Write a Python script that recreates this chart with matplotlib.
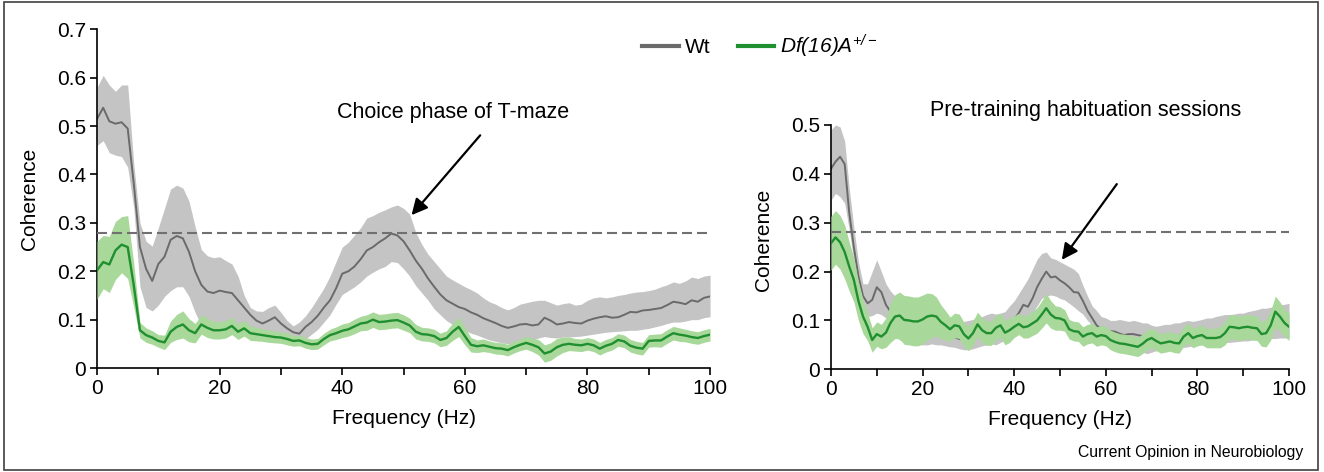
import numpy as np
import matplotlib
matplotlib.use("Agg")
import matplotlib.pyplot as plt
from matplotlib.lines import Line2D
from matplotlib.patches import Rectangle

plt.rcParams['font.family'] = ['Liberation Sans', 'DejaVu Sans']
plt.rcParams['mathtext.fontset'] = 'custom'
plt.rcParams['mathtext.rm'] = 'Liberation Sans:italic'
plt.rcParams['mathtext.it'] = 'Liberation Sans:italic'

# frequency grid (Hz), one value per Hz
freq = np.arange(0, 101)

# --- Choice phase of T-maze (left panel) ---
wt_choice = [0.515, 0.538, 0.51, 0.505, 0.508, 0.495, 0.38, 0.25, 0.205, 0.18,
             0.215, 0.23, 0.265, 0.273, 0.268, 0.24, 0.20, 0.172, 0.158, 0.155,
             0.16, 0.157, 0.155, 0.14, 0.125, 0.11, 0.098, 0.092, 0.098, 0.105,
             0.092, 0.082, 0.074, 0.071, 0.085, 0.095, 0.108, 0.125, 0.14, 0.165,
             0.195, 0.2, 0.21, 0.225, 0.243, 0.25, 0.26, 0.268, 0.278, 0.274,
             0.262, 0.243, 0.222, 0.205, 0.185, 0.168, 0.152, 0.14, 0.133, 0.126,
             0.122, 0.115, 0.11, 0.103, 0.098, 0.093, 0.087, 0.083, 0.086, 0.09,
             0.091, 0.088, 0.09, 0.104, 0.098, 0.09, 0.092, 0.095, 0.093, 0.092,
             0.098, 0.102, 0.105, 0.107, 0.104, 0.105, 0.11, 0.116, 0.115, 0.119,
             0.12, 0.122, 0.124, 0.13, 0.137, 0.135, 0.132, 0.14, 0.137, 0.145, 0.148]
wt_choice_hi = [0.58, 0.605, 0.585, 0.572, 0.585, 0.585, 0.42, 0.30, 0.262, 0.252,
                0.29, 0.33, 0.37, 0.378, 0.372, 0.345, 0.292, 0.245, 0.232, 0.228,
                0.23, 0.222, 0.215, 0.19, 0.15, 0.125, 0.118, 0.117, 0.125, 0.13,
                0.115, 0.098, 0.087, 0.095, 0.108, 0.125, 0.145, 0.165, 0.19, 0.22,
                0.25, 0.26, 0.275, 0.29, 0.31, 0.315, 0.322, 0.327, 0.333, 0.337,
                0.33, 0.318, 0.28, 0.255, 0.235, 0.22, 0.205, 0.19, 0.182, 0.175,
                0.168, 0.162, 0.155, 0.145, 0.137, 0.132, 0.125, 0.12, 0.125, 0.132,
                0.135, 0.138, 0.14, 0.14, 0.135, 0.13, 0.133, 0.135, 0.13, 0.132,
                0.14, 0.145, 0.147, 0.145, 0.147, 0.15, 0.152, 0.155, 0.157, 0.158,
                0.16, 0.163, 0.168, 0.172, 0.178, 0.175, 0.18, 0.188, 0.185, 0.19, 0.192]
wt_choice_lo = [0.46, 0.47, 0.445, 0.44, 0.437, 0.415, 0.33, 0.168, 0.125, 0.118,
                0.13, 0.148, 0.16, 0.168, 0.168, 0.148, 0.115, 0.088, 0.08, 0.078,
                0.08, 0.085, 0.085, 0.08, 0.075, 0.072, 0.07, 0.068, 0.07, 0.072,
                0.065, 0.06, 0.058, 0.055, 0.06, 0.07, 0.08, 0.095, 0.11, 0.132,
                0.152, 0.16, 0.168, 0.178, 0.19, 0.198, 0.205, 0.21, 0.22, 0.218,
                0.205, 0.19, 0.17, 0.155, 0.14, 0.122, 0.11, 0.098, 0.09, 0.085,
                0.078, 0.072, 0.068, 0.063, 0.058, 0.055, 0.052, 0.05, 0.05, 0.052,
                0.055, 0.058, 0.062, 0.065, 0.063, 0.062, 0.064, 0.064, 0.065, 0.066,
                0.068, 0.07, 0.072, 0.074, 0.075, 0.076, 0.077, 0.078, 0.078, 0.08,
                0.082, 0.085, 0.088, 0.092, 0.095, 0.095, 0.097, 0.1, 0.1, 0.104, 0.106]
df_choice = [0.202, 0.219, 0.214, 0.243, 0.255, 0.25, 0.17, 0.078, 0.068, 0.063,
             0.056, 0.053, 0.075, 0.085, 0.09, 0.078, 0.072, 0.09, 0.083, 0.078,
             0.078, 0.08, 0.087, 0.075, 0.082, 0.072, 0.07, 0.068, 0.066, 0.064,
             0.063, 0.06, 0.056, 0.057, 0.052, 0.049, 0.05, 0.06, 0.068, 0.072,
             0.077, 0.08, 0.086, 0.092, 0.094, 0.1, 0.095, 0.096, 0.098, 0.099,
             0.094, 0.088, 0.075, 0.07, 0.069, 0.066, 0.058, 0.062, 0.075, 0.085,
             0.066, 0.048, 0.045, 0.047, 0.044, 0.041, 0.04, 0.037, 0.043, 0.048,
             0.052, 0.048, 0.043, 0.03, 0.034, 0.043, 0.048, 0.05, 0.048, 0.047,
             0.05, 0.047, 0.04, 0.046, 0.05, 0.058, 0.055, 0.046, 0.042, 0.04,
             0.056, 0.057, 0.057, 0.065, 0.072, 0.069, 0.067, 0.064, 0.062, 0.066, 0.069]
df_choice_err = [0.06, 0.055, 0.058, 0.06, 0.058, 0.065, 0.045, 0.016, 0.015, 0.014,
                 0.013, 0.015, 0.022, 0.026, 0.028, 0.024, 0.02, 0.02, 0.02, 0.018,
                 0.018, 0.018, 0.018, 0.016, 0.016, 0.015, 0.014, 0.013, 0.013, 0.012,
                 0.012, 0.012, 0.011, 0.011, 0.011, 0.011, 0.011, 0.012, 0.012, 0.013,
                 0.014, 0.014, 0.015, 0.015, 0.016, 0.016, 0.016, 0.016, 0.016, 0.016,
                 0.016, 0.015, 0.015, 0.014, 0.014, 0.014, 0.014, 0.015, 0.018, 0.02,
                 0.018, 0.015, 0.013, 0.013, 0.012, 0.012, 0.012, 0.012, 0.012, 0.012,
                 0.013, 0.014, 0.016, 0.018, 0.018, 0.018, 0.016, 0.014, 0.013, 0.013,
                 0.013, 0.013, 0.013, 0.013, 0.013, 0.013, 0.013, 0.013, 0.013, 0.013,
                 0.013, 0.013, 0.014, 0.014, 0.014, 0.014, 0.013, 0.013, 0.013, 0.013, 0.013]

# --- Pre-training habituation sessions (right panel) ---
wt_habit = [0.41, 0.425, 0.435, 0.42, 0.32, 0.25, 0.19, 0.15, 0.135, 0.142,
            0.168, 0.158, 0.132, 0.118, 0.1, 0.09, 0.085, 0.08, 0.078, 0.08,
            0.082, 0.08, 0.078, 0.075, 0.073, 0.07, 0.068, 0.066, 0.062, 0.064,
            0.068, 0.07, 0.072, 0.075, 0.078, 0.08, 0.078, 0.08, 0.085, 0.095,
            0.102, 0.115, 0.132, 0.128, 0.145, 0.168, 0.185, 0.2, 0.188, 0.19,
            0.182, 0.176, 0.168, 0.158, 0.157, 0.14, 0.12, 0.105, 0.09, 0.082,
            0.08, 0.078, 0.077, 0.073, 0.07, 0.072, 0.072, 0.07, 0.068, 0.07,
            0.065, 0.062, 0.066, 0.07, 0.068, 0.066, 0.07, 0.072, 0.07, 0.068,
            0.07, 0.072, 0.074, 0.072, 0.075, 0.078, 0.08, 0.082, 0.08, 0.082,
            0.085, 0.088, 0.086, 0.09, 0.092, 0.094, 0.09, 0.095, 0.1, 0.098, 0.1]
wt_habit_hi = [0.49, 0.5, 0.496, 0.467, 0.37, 0.29, 0.22, 0.175, 0.175, 0.2,
               0.224, 0.2, 0.175, 0.16, 0.15, 0.14, 0.135, 0.13, 0.128, 0.13,
               0.13, 0.128, 0.125, 0.12, 0.115, 0.11, 0.105, 0.1, 0.095, 0.098,
               0.1, 0.102, 0.105, 0.108, 0.112, 0.115, 0.113, 0.115, 0.118, 0.13,
               0.14, 0.155, 0.17, 0.185, 0.205, 0.225, 0.237, 0.24, 0.228, 0.225,
               0.22, 0.215, 0.21, 0.205, 0.196, 0.172, 0.15, 0.13, 0.12, 0.108,
               0.105, 0.1, 0.1, 0.102, 0.1, 0.098, 0.1, 0.098, 0.095, 0.095,
               0.09, 0.088, 0.09, 0.092, 0.092, 0.095, 0.095, 0.098, 0.1, 0.098,
               0.1, 0.102, 0.105, 0.105, 0.108, 0.11, 0.112, 0.112, 0.113, 0.115,
               0.115, 0.118, 0.12, 0.122, 0.125, 0.125, 0.127, 0.13, 0.132, 0.133, 0.135]
wt_habit_lo = [0.346, 0.36, 0.353, 0.34, 0.285, 0.22, 0.15, 0.115, 0.108, 0.11,
               0.115, 0.112, 0.105, 0.09, 0.07, 0.06, 0.055, 0.052, 0.05, 0.05,
               0.05, 0.05, 0.052, 0.05, 0.05, 0.048, 0.046, 0.045, 0.042, 0.04,
               0.04, 0.042, 0.045, 0.048, 0.05, 0.052, 0.05, 0.055, 0.06, 0.068,
               0.075, 0.085, 0.095, 0.1, 0.115, 0.13, 0.145, 0.15, 0.152, 0.15,
               0.145, 0.142, 0.135, 0.128, 0.12, 0.113, 0.1, 0.09, 0.078, 0.065,
               0.058, 0.055, 0.052, 0.048, 0.045, 0.045, 0.042, 0.04, 0.035, 0.032,
               0.035, 0.038, 0.04, 0.04, 0.042, 0.042, 0.044, 0.045, 0.046, 0.048,
               0.05, 0.05, 0.052, 0.052, 0.053, 0.054, 0.055, 0.055, 0.056, 0.057,
               0.058, 0.058, 0.06, 0.06, 0.062, 0.062, 0.063, 0.063, 0.064, 0.064, 0.065]
df_habit = [0.258, 0.27, 0.26, 0.24, 0.21, 0.183, 0.14, 0.108, 0.087, 0.06,
            0.072, 0.067, 0.075, 0.095, 0.108, 0.11, 0.101, 0.1, 0.098, 0.098,
            0.102, 0.108, 0.11, 0.108, 0.097, 0.09, 0.082, 0.09, 0.088, 0.072,
            0.063, 0.074, 0.092, 0.08, 0.074, 0.074, 0.085, 0.09, 0.075, 0.08,
            0.087, 0.093, 0.086, 0.088, 0.094, 0.1, 0.112, 0.125, 0.112, 0.105,
            0.104, 0.1, 0.082, 0.078, 0.077, 0.067, 0.072, 0.074, 0.067, 0.07,
            0.068, 0.06, 0.056, 0.053, 0.052, 0.05, 0.048, 0.046, 0.052, 0.06,
            0.064, 0.058, 0.053, 0.055, 0.057, 0.054, 0.053, 0.067, 0.074, 0.064,
            0.068, 0.07, 0.064, 0.064, 0.064, 0.066, 0.074, 0.087, 0.086, 0.084,
            0.086, 0.087, 0.085, 0.084, 0.072, 0.074, 0.09, 0.118, 0.108, 0.095, 0.087]
df_habit_err = [0.055, 0.055, 0.055, 0.055, 0.05, 0.045, 0.04, 0.035, 0.028, 0.025,
                0.025, 0.025, 0.03, 0.04, 0.045, 0.048, 0.05, 0.05, 0.05, 0.05,
                0.05, 0.048, 0.045, 0.04, 0.035, 0.03, 0.025, 0.025, 0.025, 0.025,
                0.025, 0.025, 0.025, 0.025, 0.025, 0.025, 0.025, 0.025, 0.025, 0.025,
                0.022, 0.022, 0.022, 0.024, 0.025, 0.026, 0.028, 0.03, 0.028, 0.025,
                0.024, 0.022, 0.02, 0.02, 0.02, 0.02, 0.02, 0.02, 0.02, 0.02,
                0.02, 0.02, 0.02, 0.02, 0.02, 0.02, 0.02, 0.02, 0.02, 0.02,
                0.02, 0.02, 0.02, 0.02, 0.02, 0.02, 0.02, 0.02, 0.02, 0.02,
                0.02, 0.02, 0.02, 0.02, 0.02, 0.022, 0.024, 0.025, 0.025, 0.025,
                0.025, 0.025, 0.025, 0.025, 0.025, 0.028, 0.03, 0.032, 0.03, 0.028, 0.028]

threshold = 0.28

grey_fill = '#c4c4c4'
grey_line = '#6a6a6a'
green_fill = '#a9d89b'
green_line = '#1f8f2f'

fig = plt.figure(figsize=(13.24, 4.72), dpi=100)
ax1 = fig.add_axes([0.0733, 0.2203, 0.463, 0.7175])
ax2 = fig.add_axes([0.6276, 0.2176, 0.346, 0.5176])


def draw_panel(ax, wt, wt_lo, wt_hi, df, df_err, ymax, title, title_xy, arrow_tail, arrow_head):
    df = np.array(df)
    df_err = np.array(df_err)
    ax.fill_between(freq, wt_lo, wt_hi, color=grey_fill, lw=0, zorder=1)
    ax.plot(freq, wt, color=grey_line, lw=1.4, zorder=2)
    ax.fill_between(freq, df - df_err, df + df_err, color=green_fill, lw=0, zorder=3)
    ax.plot(freq, df, color=green_line, lw=1.7, zorder=4)
    ax.axhline(threshold, color='#707070', lw=1.5, ls=(0, (4.8, 2.4)), zorder=5)

    ax.set_xlim(0, 100)
    ax.set_ylim(0, ymax)
    ax.set_xticks(np.arange(0, 101, 20))
    ax.set_xticks(np.arange(10, 100, 20), minor=True)
    ax.set_yticks(np.round(np.arange(0, ymax + 0.001, 0.1), 1))
    ax.set_yticklabels(['0'] + ['%.1f' % v for v in np.arange(0.1, ymax + 0.001, 0.1)])
    ax.tick_params(which='both', direction='out', length=5, width=1.2, labelsize=15, pad=3)
    for s in ['top', 'right']:
        ax.spines[s].set_visible(False)
    for s in ['left', 'bottom']:
        ax.spines[s].set_linewidth(1.2)
    ax.set_xlabel('Frequency (Hz)', fontsize=15)
    ax.set_ylabel('Coherence', fontsize=15)

    ax.text(title_xy[0], title_xy[1], title, fontsize=15.5, ha='center', va='center')
    ax.annotate('', xy=arrow_head, xytext=arrow_tail,
                arrowprops=dict(arrowstyle='-|>', color='black', lw=1.6,
                                mutation_scale=24, shrinkA=0, shrinkB=0))


draw_panel(ax1, wt_choice, wt_choice_lo, wt_choice_hi, df_choice, df_choice_err, 0.7,
           'Choice phase of T-maze', (58, 0.529), (62.5, 0.481), (51.3, 0.316))
draw_panel(ax2, wt_habit, wt_habit_lo, wt_habit_hi, df_habit, df_habit_err, 0.5,
           'Pre-training habituation sessions', (55.5, 0.529), (62.4, 0.379), (50.4, 0.224))

ax1.yaxis.set_label_coords(-0.095, 0.5)
ax1.xaxis.set_label_coords(0.5, -0.122)
ax2.yaxis.set_label_coords(-0.127, 0.53)
ax2.xaxis.set_label_coords(0.5, -0.167)

handles = [Line2D([], [], color=grey_line, lw=3),
           Line2D([], [], color=green_line, lw=3)]
labels = ['Wt', r'Df(16)A$^{+/-}$']
leg = fig.legend(handles, labels, loc='center', bbox_to_anchor=(0.574, 0.902), ncol=2,
                 frameon=False, fontsize=15, handlelength=1.75, handletextpad=0.3,
                 columnspacing=1.3)
leg.get_texts()[1].set_fontstyle('italic')

fig.text(1303 / 1324, 1 - 452 / 472, 'Current Opinion in Neurobiology', fontsize=11.3,
         ha='right', va='center')

fig.patches.append(Rectangle((4 / 1324, 2 / 472), 1314 / 1324, 468 / 472,
                             transform=fig.transFigure, fill=False,
                             edgecolor='#404040', lw=1.2))

plt.savefig('out.png', dpi=100)
